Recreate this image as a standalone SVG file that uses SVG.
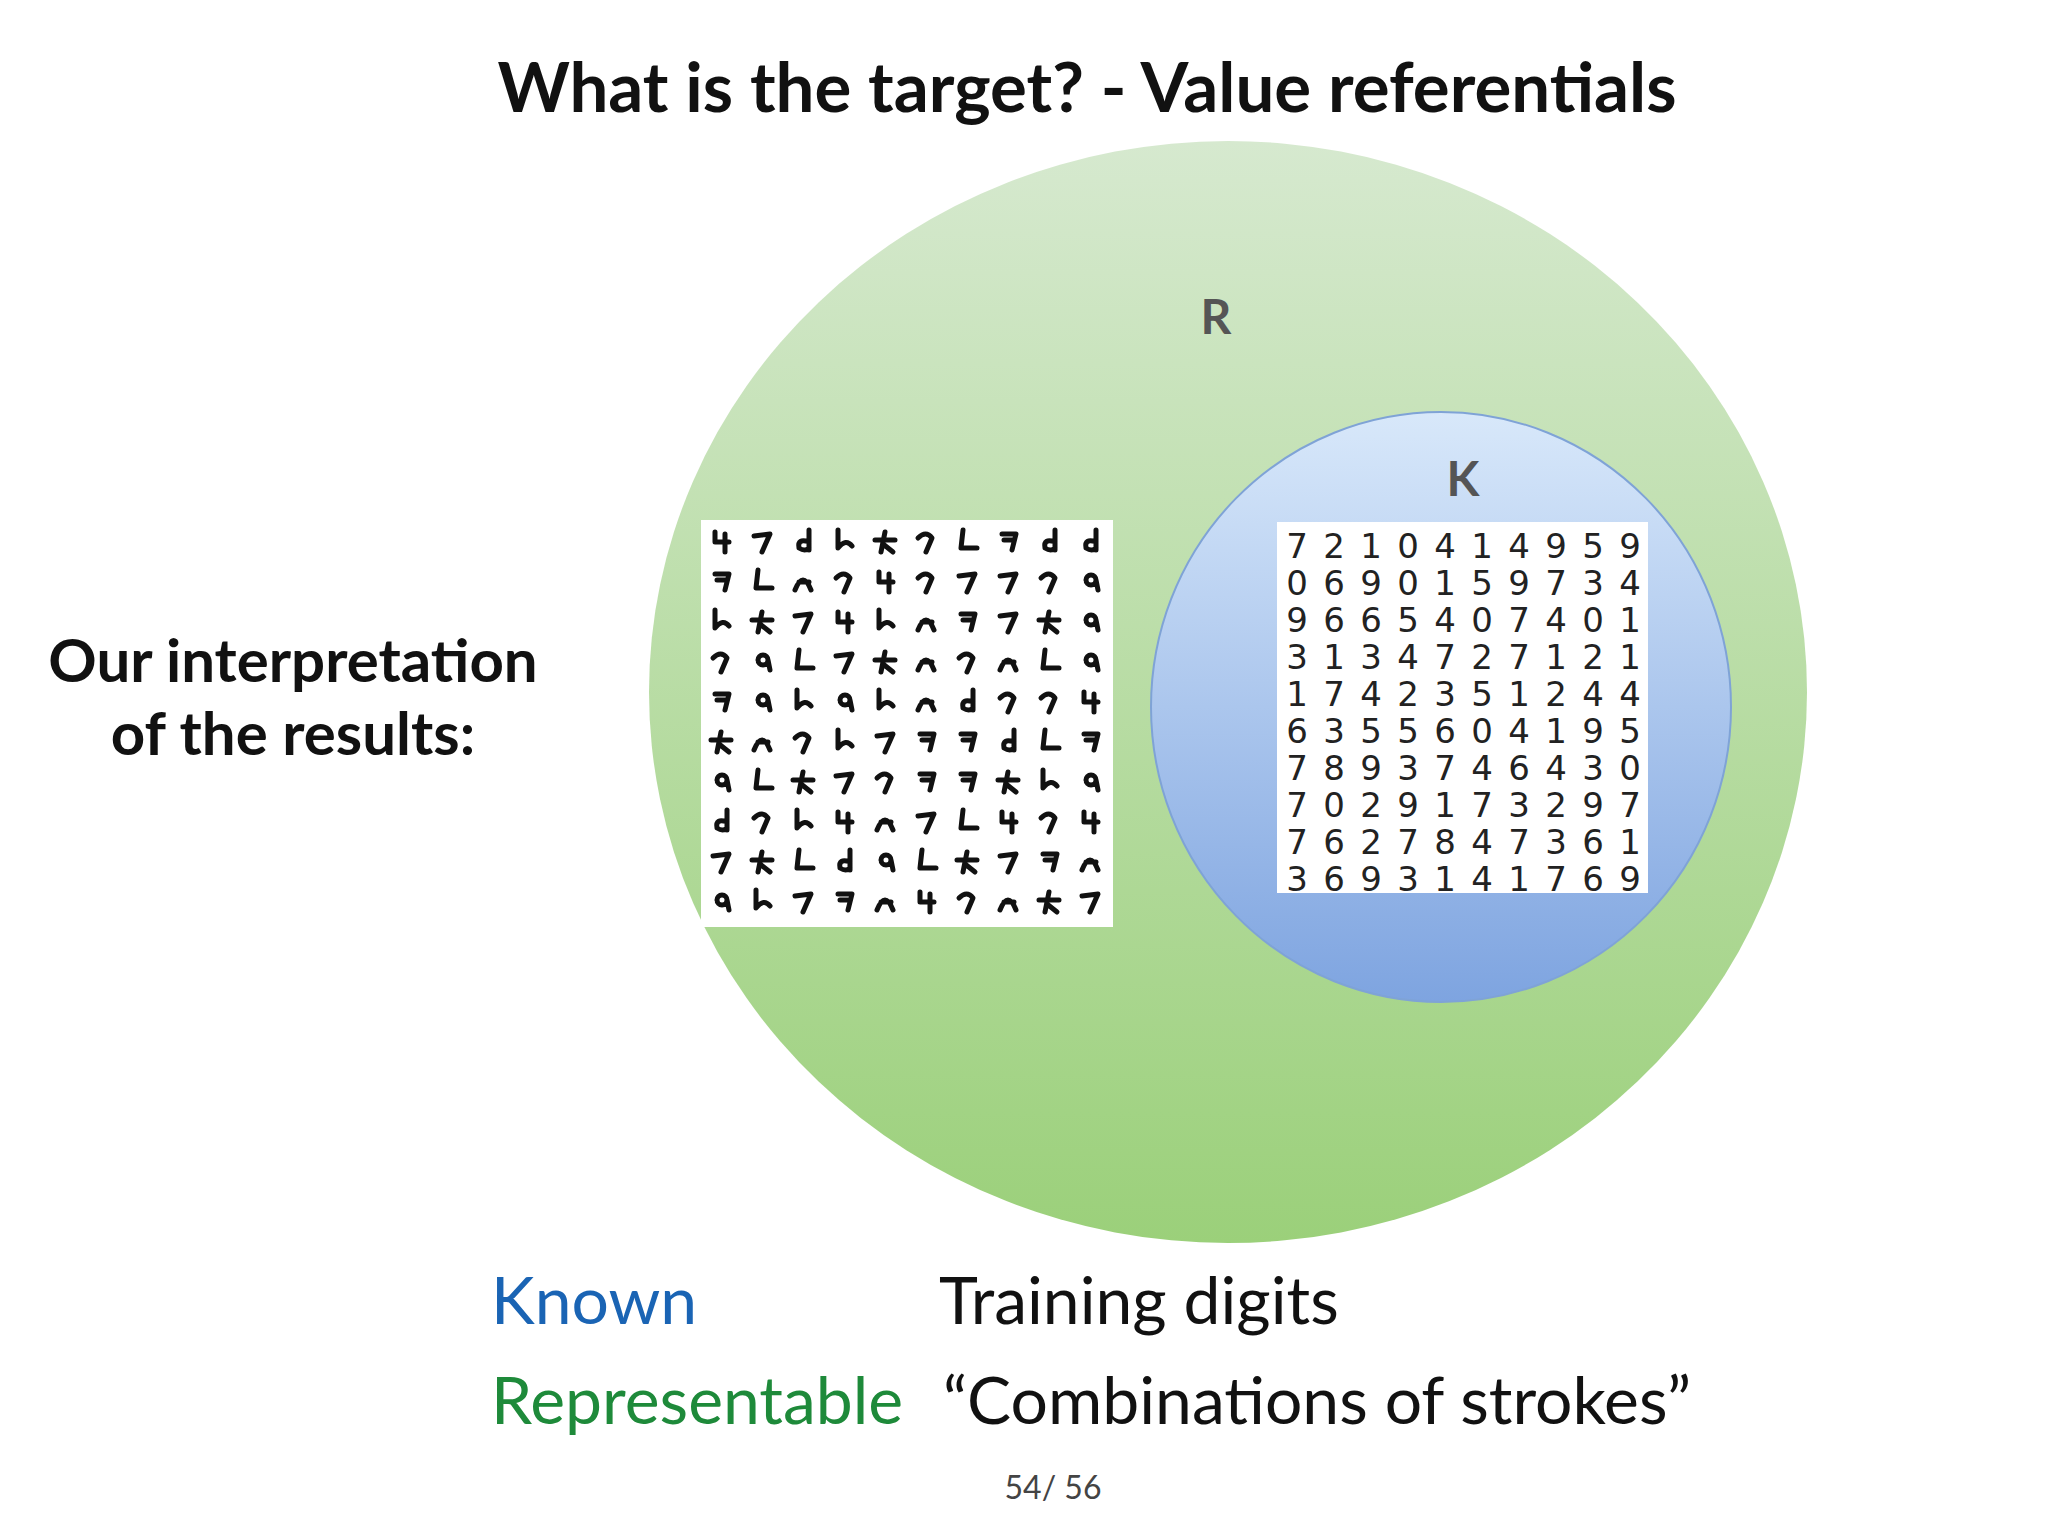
<svg xmlns="http://www.w3.org/2000/svg" width="2048" height="1536" viewBox="0 0 2048 1536">
<style>
.t{font-family:Lato,"Open Sans","Liberation Sans",sans-serif}
.s{fill:none;stroke:#111;stroke-width:5;stroke-linecap:round;stroke-linejoin:round}
.d{font-family:"DejaVu Sans","Liberation Sans",sans-serif;font-size:34px;fill:#222;text-anchor:middle}
</style>
<defs>
<linearGradient id="gR" x1="0" y1="0" x2="0" y2="1"><stop offset="0" stop-color="#d6e9cf"/><stop offset="1" stop-color="#9bd07a"/></linearGradient>
<linearGradient id="gK" x1="0" y1="0" x2="0" y2="1"><stop offset="0" stop-color="#d8e8fa"/><stop offset="1" stop-color="#7ea4e0"/></linearGradient>
<path id="a0" class="s" d="M8 6 L8 16 L22 16 M18 8 L18 26"/>
<path id="a1" class="s" d="M6 10 L22 8 L14 26"/>
<path id="a2" class="s" d="M20 4 L20 24 M20 16 Q8 12 10 22 Q16 26 20 22"/>
<path id="a3" class="s" d="M8 4 L8 22 Q16 12 22 20"/>
<path id="a4" class="s" d="M4 14 L24 14 M14 6 L10 26 M12 18 L22 26"/>
<path id="a5" class="s" d="M6 12 Q14 4 20 12 L14 26"/>
<path id="a6" class="s" d="M10 4 L8 22 L24 22"/>
<path id="a7" class="s" d="M8 8 L22 8 L18 24 M10 14 L20 14"/>
<path id="a8" class="s" d="M10 14 A5 5 0 1 0 20 14 A5 5 0 1 0 10 14 M20 14 L22 24"/>
<path id="a9" class="s" d="M6 24 Q14 4 22 24 M10 16 L20 16"/>
</defs>
<rect width="2048" height="1536" fill="#fff"/>
<text class="t" x="1087" y="112" font-size="69" font-weight="bold" text-anchor="middle" fill="#111">What is the target? - Value referentials</text>
<g id="R"><ellipse cx="1228" cy="692" rx="579" ry="551" fill="url(#gR)"/>
<text class="t" x="1216" y="334" font-size="48" font-weight="bold" fill="#555" text-anchor="middle">R</text></g>
<g id="K"><ellipse cx="1441" cy="707" rx="290" ry="295" fill="url(#gK)" stroke="#7fa3d6" stroke-width="2"/>
<text class="t" x="1463" y="496" font-size="48" font-weight="bold" fill="#555" text-anchor="middle">K</text></g>
<g id="leftgrid"><rect x="701" y="520" width="412" height="407" fill="#fff"/>
<g transform="translate(707,526)"><use href="#a0"/><use href="#a1" x="41"/><use href="#a2" x="82"/><use href="#a3" x="123"/><use href="#a4" x="164"/><use href="#a5" x="205"/><use href="#a6" x="246"/><use href="#a7" x="287"/><use href="#a2" x="328"/><use href="#a2" x="369"/></g>
<g transform="translate(707,566)"><use href="#a7"/><use href="#a6" x="41"/><use href="#a9" x="82"/><use href="#a5" x="123"/><use href="#a0" x="164"/><use href="#a5" x="205"/><use href="#a1" x="246"/><use href="#a1" x="287"/><use href="#a5" x="328"/><use href="#a8" x="369"/></g>
<g transform="translate(707,606)"><use href="#a3"/><use href="#a4" x="41"/><use href="#a1" x="82"/><use href="#a0" x="123"/><use href="#a3" x="164"/><use href="#a9" x="205"/><use href="#a7" x="246"/><use href="#a1" x="287"/><use href="#a4" x="328"/><use href="#a8" x="369"/></g>
<g transform="translate(707,646)"><use href="#a5"/><use href="#a8" x="41"/><use href="#a6" x="82"/><use href="#a1" x="123"/><use href="#a4" x="164"/><use href="#a9" x="205"/><use href="#a5" x="246"/><use href="#a9" x="287"/><use href="#a6" x="328"/><use href="#a8" x="369"/></g>
<g transform="translate(707,686)"><use href="#a7"/><use href="#a8" x="41"/><use href="#a3" x="82"/><use href="#a8" x="123"/><use href="#a3" x="164"/><use href="#a9" x="205"/><use href="#a2" x="246"/><use href="#a5" x="287"/><use href="#a5" x="328"/><use href="#a0" x="369"/></g>
<g transform="translate(707,726)"><use href="#a4"/><use href="#a9" x="41"/><use href="#a5" x="82"/><use href="#a3" x="123"/><use href="#a1" x="164"/><use href="#a7" x="205"/><use href="#a7" x="246"/><use href="#a2" x="287"/><use href="#a6" x="328"/><use href="#a7" x="369"/></g>
<g transform="translate(707,766)"><use href="#a8"/><use href="#a6" x="41"/><use href="#a4" x="82"/><use href="#a1" x="123"/><use href="#a5" x="164"/><use href="#a7" x="205"/><use href="#a7" x="246"/><use href="#a4" x="287"/><use href="#a3" x="328"/><use href="#a8" x="369"/></g>
<g transform="translate(707,806)"><use href="#a2"/><use href="#a5" x="41"/><use href="#a3" x="82"/><use href="#a0" x="123"/><use href="#a9" x="164"/><use href="#a1" x="205"/><use href="#a6" x="246"/><use href="#a0" x="287"/><use href="#a5" x="328"/><use href="#a0" x="369"/></g>
<g transform="translate(707,846)"><use href="#a1"/><use href="#a4" x="41"/><use href="#a6" x="82"/><use href="#a2" x="123"/><use href="#a8" x="164"/><use href="#a6" x="205"/><use href="#a4" x="246"/><use href="#a1" x="287"/><use href="#a7" x="328"/><use href="#a9" x="369"/></g>
<g transform="translate(707,886)"><use href="#a8"/><use href="#a3" x="41"/><use href="#a1" x="82"/><use href="#a7" x="123"/><use href="#a9" x="164"/><use href="#a0" x="205"/><use href="#a5" x="246"/><use href="#a9" x="287"/><use href="#a4" x="328"/><use href="#a1" x="369"/></g>
</g>
<g id="rightgrid"><rect x="1277" y="522" width="371" height="371" fill="#fff"/>
<text class="d" y="558"><tspan x="1297">7</tspan><tspan x="1334">2</tspan><tspan x="1371">1</tspan><tspan x="1408">0</tspan><tspan x="1445">4</tspan><tspan x="1482">1</tspan><tspan x="1519">4</tspan><tspan x="1556">9</tspan><tspan x="1593">5</tspan><tspan x="1630">9</tspan></text>
<text class="d" y="595"><tspan x="1297">0</tspan><tspan x="1334">6</tspan><tspan x="1371">9</tspan><tspan x="1408">0</tspan><tspan x="1445">1</tspan><tspan x="1482">5</tspan><tspan x="1519">9</tspan><tspan x="1556">7</tspan><tspan x="1593">3</tspan><tspan x="1630">4</tspan></text>
<text class="d" y="632"><tspan x="1297">9</tspan><tspan x="1334">6</tspan><tspan x="1371">6</tspan><tspan x="1408">5</tspan><tspan x="1445">4</tspan><tspan x="1482">0</tspan><tspan x="1519">7</tspan><tspan x="1556">4</tspan><tspan x="1593">0</tspan><tspan x="1630">1</tspan></text>
<text class="d" y="669"><tspan x="1297">3</tspan><tspan x="1334">1</tspan><tspan x="1371">3</tspan><tspan x="1408">4</tspan><tspan x="1445">7</tspan><tspan x="1482">2</tspan><tspan x="1519">7</tspan><tspan x="1556">1</tspan><tspan x="1593">2</tspan><tspan x="1630">1</tspan></text>
<text class="d" y="706"><tspan x="1297">1</tspan><tspan x="1334">7</tspan><tspan x="1371">4</tspan><tspan x="1408">2</tspan><tspan x="1445">3</tspan><tspan x="1482">5</tspan><tspan x="1519">1</tspan><tspan x="1556">2</tspan><tspan x="1593">4</tspan><tspan x="1630">4</tspan></text>
<text class="d" y="743"><tspan x="1297">6</tspan><tspan x="1334">3</tspan><tspan x="1371">5</tspan><tspan x="1408">5</tspan><tspan x="1445">6</tspan><tspan x="1482">0</tspan><tspan x="1519">4</tspan><tspan x="1556">1</tspan><tspan x="1593">9</tspan><tspan x="1630">5</tspan></text>
<text class="d" y="780"><tspan x="1297">7</tspan><tspan x="1334">8</tspan><tspan x="1371">9</tspan><tspan x="1408">3</tspan><tspan x="1445">7</tspan><tspan x="1482">4</tspan><tspan x="1519">6</tspan><tspan x="1556">4</tspan><tspan x="1593">3</tspan><tspan x="1630">0</tspan></text>
<text class="d" y="817"><tspan x="1297">7</tspan><tspan x="1334">0</tspan><tspan x="1371">2</tspan><tspan x="1408">9</tspan><tspan x="1445">1</tspan><tspan x="1482">7</tspan><tspan x="1519">3</tspan><tspan x="1556">2</tspan><tspan x="1593">9</tspan><tspan x="1630">7</tspan></text>
<text class="d" y="854"><tspan x="1297">7</tspan><tspan x="1334">6</tspan><tspan x="1371">2</tspan><tspan x="1408">7</tspan><tspan x="1445">8</tspan><tspan x="1482">4</tspan><tspan x="1519">7</tspan><tspan x="1556">3</tspan><tspan x="1593">6</tspan><tspan x="1630">1</tspan></text>
<text class="d" y="891"><tspan x="1297">3</tspan><tspan x="1334">6</tspan><tspan x="1371">9</tspan><tspan x="1408">3</tspan><tspan x="1445">1</tspan><tspan x="1482">4</tspan><tspan x="1519">1</tspan><tspan x="1556">7</tspan><tspan x="1593">6</tspan><tspan x="1630">9</tspan></text>
</g>
<g id="interp"><text class="t" font-size="60" font-weight="bold" fill="#111" text-anchor="middle"><tspan x="293" y="682">Our interpretation</tspan><tspan x="293" y="755">of the results:</tspan></text></g>
<g id="legend" class="t" font-size="66">
<text x="491" y="1324" fill="#1a64b4">Known</text>
<text x="939" y="1324" fill="#111">Training digits</text>
<text x="491" y="1424" fill="#1e8a3a">Representable</text>
<text x="943" y="1424" fill="#111">“Combinations of strokes”</text>
</g>
<text class="t" x="1053" y="1499" font-size="32" fill="#444" text-anchor="middle">54/ 56</text>
<g id="connectors"/>
</svg>
